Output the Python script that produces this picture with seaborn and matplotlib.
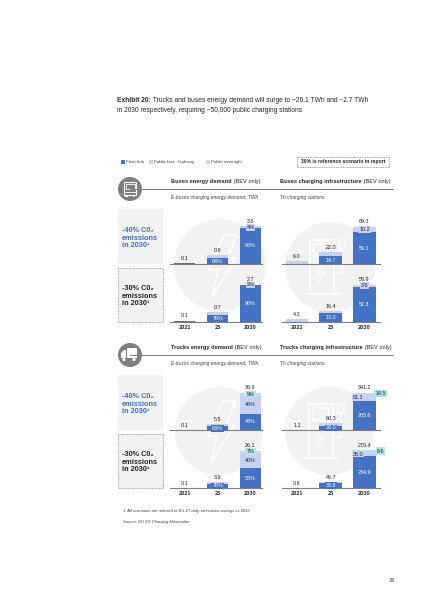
import numpy as np
import pandas as pd
import matplotlib
matplotlib.use("Agg")
import matplotlib.pyplot as plt
import seaborn as sns
from matplotlib.patches import Circle, Rectangle, Polygon

# ---------------- data ----------------
years = ["2021", "25", "2030"]

# buses energy demand, TWh (total + share per charging type)
bus_energy_total_40 = [0.1, 0.9, 3.8]
bus_energy_fleet_pct_40 = [100, 64, 96]
bus_energy_fast_pct_40 = [0, 36, 4]
bus_energy_total_30 = [0.1, 0.7, 2.7]
bus_energy_fleet_pct_30 = [100, 76, 98]
bus_energy_fast_pct_30 = [0, 24, 2]

# buses charging stations, Th
bus_infra_total_40 = [6.0, 22.0, 69.3]
bus_infra_fleet_40 = [0.0, 14.7, 59.1]
bus_infra_fast_40 = [6.0, 7.3, 10.2]
bus_infra_total_30 = [4.3, 16.4, 55.9]
bus_infra_fleet_30 = [0.0, 13.0, 52.3]
bus_infra_fast_30 = [4.3, 3.4, 3.6]

# trucks energy demand, TWh
truck_energy_total_40 = [0.1, 5.5, 36.9]
truck_energy_fleet_pct_40 = [100, 63, 43]
truck_energy_fast_pct_40 = [0, 37, 48]
truck_energy_night_pct_40 = [0, 0, 9]
truck_energy_total_30 = [0.1, 3.9, 26.1]
truck_energy_fleet_pct_30 = [100, 78, 53]
truck_energy_fast_pct_30 = [0, 22, 40]
truck_energy_night_pct_30 = [0, 0, 7]

# trucks charging stations, Th
truck_infra_total_40 = [1.1, 60.3, 341.2]
truck_infra_fleet_40 = [0.0, 38.0, 265.6]
truck_infra_fast_40 = [1.1, 22.3, 61.1]
truck_infra_night_40 = [0.0, 0.0, 14.5]
truck_infra_total_30 = [0.8, 46.7, 279.4]
truck_infra_fleet_30 = [0.0, 33.8, 234.9]
truck_infra_fast_30 = [0.8, 12.9, 36.0]
truck_infra_night_30 = [0.0, 0.0, 8.6]

legend_labels = ["Fleet hub", "Public fast - highway", "Public overnight"]

# ---------------- style ----------------
sns.set_style("white")
plt.rcParams["font.family"] = ["Liberation Sans", "DejaVu Sans"]

C_FLEET = "#4472c4"
C_FAST = "#c7d2f2"
C_NIGHT = "#b2e3eb"
C_GREY = "#7f7f7f"
C_BG = "#f2f2f2"
C_TEXT = "#262626"

W, H = 424, 600
fig = plt.figure(figsize=(W / 100, H / 100), dpi=100)
fig.patch.set_facecolor("white")

# background axes in pixel coordinates (y down)
bg = fig.add_axes([0, 0, 1, 1])
bg.set_xlim(0, W)
bg.set_ylim(H, 0)
bg.axis("off")
renderer = fig.canvas.get_renderer()


def rich_text(x, y, parts, **kw):
    for s, weight, style in parts:
        t = bg.text(x, y, s, fontweight=weight, fontstyle=style, **kw)
        x += t.get_window_extent(renderer=renderer).width


def px_axes(x0, x1, base, height=48):
    return fig.add_axes([x0 / W, 1 - base / H, (x1 - x0) / W, height / H])


# ---------------- title ----------------
rich_text(117, 100, [("Exhibit 20:", "bold", "normal"),
                     (" Trucks and buses energy demand will surge to ~26.1 TWh and ~2.7 TWh",
                      "normal", "normal")],
          fontsize=4.8, va="center", color=C_TEXT)
bg.text(117, 111, "in 2030 respectively, requiring ~50,000 public charging stations",
        fontsize=4.8, va="center", color=C_TEXT)

# ---------------- legend ----------------
for lx, lab, col in zip([121, 149, 206], legend_labels, [C_FLEET, C_FAST, C_NIGHT]):
    bg.add_patch(Rectangle((lx, 160.2), 3.6, 3.6, color=col, lw=0))
    bg.text(lx + 5, 162, lab, fontsize=3.2, va="center", color="#404040")

bg.add_patch(Rectangle((297, 157), 92, 10, fill=False, ec=C_GREY, lw=0.5, ls=(0, (1.5, 1))))
bg.text(343, 162, "30% is reference scenario in report", fontsize=3.6, fontweight="bold",
        ha="center", va="center", color=C_TEXT)


# ---------------- section frames ----------------
def section(y_line, kind, left_title, right_title, left_sub, right_sub):
    bg.plot([130, 393], [y_line, y_line], color=C_GREY, lw=0.7)
    bg.add_patch(Circle((130, y_line), 12, color=C_GREY, lw=0))
    cx, cy = 130, y_line
    if kind == "bus":
        bg.add_patch(Rectangle((cx - 6, cy - 7), 12, 13, fill=False, ec="white", lw=0.8))
        bg.add_patch(Rectangle((cx - 4.5, cy - 5), 9, 5, fill=False, ec="white", lw=0.6))
        bg.plot([cx - 6, cx + 6], [cy + 3, cy + 3], color="white", lw=0.6)
        bg.add_patch(Rectangle((cx - 5, cy + 6), 2.5, 2, color="white", lw=0))
        bg.add_patch(Rectangle((cx + 2.5, cy + 6), 2.5, 2, color="white", lw=0))
    else:
        bg.add_patch(Rectangle((cx - 3, cy - 7), 10, 10, color="white", lw=0))
        bg.add_patch(Polygon([(cx - 9, cy + 3), (cx - 9, cy - 2), (cx - 6, cy - 5),
                              (cx - 4, cy - 5), (cx - 4, cy + 3)], color="white", lw=0))
        bg.add_patch(Circle((cx - 6, cy + 4.5), 1.6, color="white", lw=0))
        bg.add_patch(Circle((cx + 4, cy + 4.5), 1.6, color="white", lw=0))
    rich_text(171, y_line - 7, [(left_title, "bold", "normal"), (" (BEV only)", "normal", "normal")],
              fontsize=4.1, va="center", color=C_TEXT)
    rich_text(280, y_line - 7, [(right_title, "bold", "normal"), (" (BEV only)", "normal", "normal")],
              fontsize=4.1, va="center", color=C_TEXT)
    bg.text(171, y_line + 9, left_sub, fontsize=3.5, fontstyle="italic", va="center", color="#404040")
    bg.text(280, y_line + 9, right_sub, fontsize=3.5, fontstyle="italic", va="center", color="#404040")

    top = y_line + 20
    bg.add_patch(Rectangle((118, top), 45, 55, color=C_BG, lw=0))
    bg.add_patch(Rectangle((118, top + 59), 45, 54, fc=C_BG, ec="#8c8c8c", lw=0.5, ls=(0, (1.5, 1))))
    for dy, pct, col in [(0, "-40%", C_FLEET), (58, "-30%", C_TEXT)]:
        y0 = top + dy + 21
        bg.text(122, y0, pct + " C0\u2082", fontsize=5.3, fontweight="bold", color=col, va="center")
        bg.text(122, y0 + 8, "emissions", fontsize=5.3, fontweight="bold", color=col, va="center")
        bg.text(122, y0 + 15.5, "in 2030\u00b9", fontsize=5.3, fontweight="bold", color=col, va="center")


def bolt_icon(cx, cy):
    pts = [(4, -30), (17, -30), (7, -7), (16, -7), (-8, 32), (-2, 5), (-11, 5)]
    bg.add_patch(Polygon([(cx + a, cy + b) for a, b in pts], closed=True, fill=False,
                         ec="white", lw=1.3))


def charger_icon(cx, cy):
    bg.add_patch(Rectangle((cx - 20, cy - 27), 24, 54, fill=False, ec="white", lw=1.3))
    bg.add_patch(Rectangle((cx - 16, cy - 23), 16, 12, fill=False, ec="white", lw=1.1))
    bg.plot([cx - 24, cx + 10], [cy + 27, cy + 27], color="white", lw=1.3)
    bg.plot([cx + 4, cx + 12, cx + 12], [cy + 6, cy + 6, cy - 18], color="white", lw=1.1)
    bg.add_patch(Rectangle((cx + 9, cy - 27), 6, 9, fill=False, ec="white", lw=1.1))
    bg.plot([cx - 6, cx - 12, cx - 6, cx - 12], [cy - 4, cy + 6, cy + 6, cy + 16],
            color="white", lw=1.1)


section(189, "bus", "Buses energy demand", "Buses charging infrastructure",
        "E-buses charging energy demand, TWh", "Th charging stations")
section(355, "truck", "Trucks energy demand", "Trucks charging infrastructure",
        "E-trucks charging energy demand, TWh", "Th charging stations")

for (cx, cy, r, kind) in [(220, 265, 46, "e"), (330, 267, 45, "i"),
                          (219, 431, 44, "e"), (329, 431, 44, "i")]:
    bg.add_patch(Circle((cx, cy), r, color=C_BG, lw=0))
    if kind == "e":
        bolt_icon(cx, cy)
    else:
        charger_icon(cx, cy)


# ---------------- stacked bar panels ----------------
def draw_panel(x0, x1, base, xlim, width, fleet, fast, night, totals, fmt, show_years, split=False):
    ax = px_axes(x0, x1, base)
    ax.set_facecolor("none")
    fleet = np.asarray(fleet, float)
    fast = np.asarray(fast, float)
    night = np.asarray(night, float)
    ymax = max(totals) * 48 / 37.5
    df = pd.DataFrame({"year": years, "all": fleet + fast + night,
                       "fleet_fast": fleet + fast, "fleet": fleet})
    for col, c in [("all", C_NIGHT), ("fleet_fast", C_FAST), ("fleet", C_FLEET)]:
        sns.barplot(data=df, x="year", y=col, order=years, color=c, saturation=1,
                    width=width, errorbar=None, linewidth=0, ax=ax)
    ax.set_xlim(*xlim)
    ax.set_ylim(0, ymax)
    ax.set_xlabel("")
    ax.set_ylabel("")
    ax.set_yticks([])
    for s in ["top", "left", "right"]:
        ax.spines[s].set_visible(False)
    ax.spines["bottom"].set_color(C_GREY)
    ax.spines["bottom"].set_linewidth(0.8)
    ax.tick_params(axis="x", length=0, pad=2.2, labelsize=4.1, labelbottom=show_years)
    for lbl in ax.get_xticklabels():
        lbl.set_fontweight("bold")
        lbl.set_color(C_TEXT)

    fs = 3.9
    for i, tot in enumerate(totals):
        ax.annotate(f"{tot:.1f}", (i, fleet[i] + fast[i] + night[i]), xytext=(0, 1.6),
                    textcoords="offset points", ha="center", va="bottom", fontsize=fs, color=C_TEXT)
        if i == 0:
            continue
        # fleet hub label
        ftxt = f"{fleet[i] / tot * 100:.0f}%" if fmt == "pct" else f"{fleet[i]:.1f}"
        ax.text(i, fleet[i] / 2, ftxt, ha="center", va="center", fontsize=fs, color="white",
                bbox=dict(boxstyle="square,pad=0.15", fc=C_FLEET, ec="none"))
        if i < 2:
            continue
        stxt = f"{fast[i] / tot * 100:.0f}%" if fmt == "pct" else f"{fast[i]:.1f}"
        sx = i - 0.2 if split else i
        ax.text(sx, fleet[i] + fast[i] / 2, stxt, ha="center", va="center", fontsize=fs,
                color=C_TEXT, bbox=dict(boxstyle="square,pad=0.15", fc=C_FAST, ec="none"))
        if night[i] > 0:
            ntxt = f"{night[i] / tot * 100:.0f}%" if fmt == "pct" else f"{night[i]:.1f}"
            nx = i + 0.47 if split else i
            ny = fleet[i] + fast[i] + night[i] / 2
            ax.text(nx, ny, ntxt, ha="center", va="center", fontsize=fs, color=C_TEXT,
                    bbox=dict(boxstyle="square,pad=0.2", fc=C_NIGHT, ec="none"))
    return ax


def pct_split(total, *pcts):
    return [np.asarray(total) * np.asarray(p) / 100 for p in pcts]


L_X = (170, 262, (-0.45, 2.35), 0.65)
R_X = (282, 380, (-0.44, 2.46), 0.67)
zeros = [0, 0, 0]

for base, tot, fp, sp, show in [(264, bus_energy_total_40, bus_energy_fleet_pct_40, bus_energy_fast_pct_40, False),
                                (322, bus_energy_total_30, bus_energy_fleet_pct_30, bus_energy_fast_pct_30, True)]:
    f, s = pct_split(tot, fp, sp)
    draw_panel(L_X[0], L_X[1], base, L_X[2], L_X[3], f, s, zeros, tot, "pct", show)

draw_panel(R_X[0], R_X[1], 264, R_X[2], R_X[3], bus_infra_fleet_40, bus_infra_fast_40, zeros,
           bus_infra_total_40, "abs", False)
draw_panel(R_X[0], R_X[1], 322, R_X[2], R_X[3], bus_infra_fleet_30, bus_infra_fast_30, zeros,
           bus_infra_total_30, "abs", True)

for base, tot, fp, sp, npct, show in [
        (430, truck_energy_total_40, truck_energy_fleet_pct_40, truck_energy_fast_pct_40, truck_energy_night_pct_40, False),
        (488, truck_energy_total_30, truck_energy_fleet_pct_30, truck_energy_fast_pct_30, truck_energy_night_pct_30, True)]:
    f, s, n = pct_split(tot, fp, sp, npct)
    draw_panel(L_X[0], L_X[1], base, L_X[2], L_X[3], f, s, n, tot, "pct", show)

draw_panel(R_X[0], R_X[1], 430, R_X[2], R_X[3], truck_infra_fleet_40, truck_infra_fast_40,
           truck_infra_night_40, truck_infra_total_40, "abs", False, split=True)
draw_panel(R_X[0], R_X[1], 488, R_X[2], R_X[3], truck_infra_fleet_30, truck_infra_fast_30,
           truck_infra_night_30, truck_infra_total_30, "abs", True, split=True)

# ---------------- footnotes ----------------
bg.text(123, 511, "1. All scenarios are referred to EU-27 only, emissions savings vs 2020",
        fontsize=3.0, va="center", color="#404040")
bg.text(123, 522, "Source: EU EV Charging Masterplan", fontsize=3.0, fontstyle="italic",
        va="center", color="#404040")
bg.text(392, 581, "33", fontsize=3.8, ha="center", va="center", color=C_TEXT)

fig.savefig("out.png", dpi=100)
